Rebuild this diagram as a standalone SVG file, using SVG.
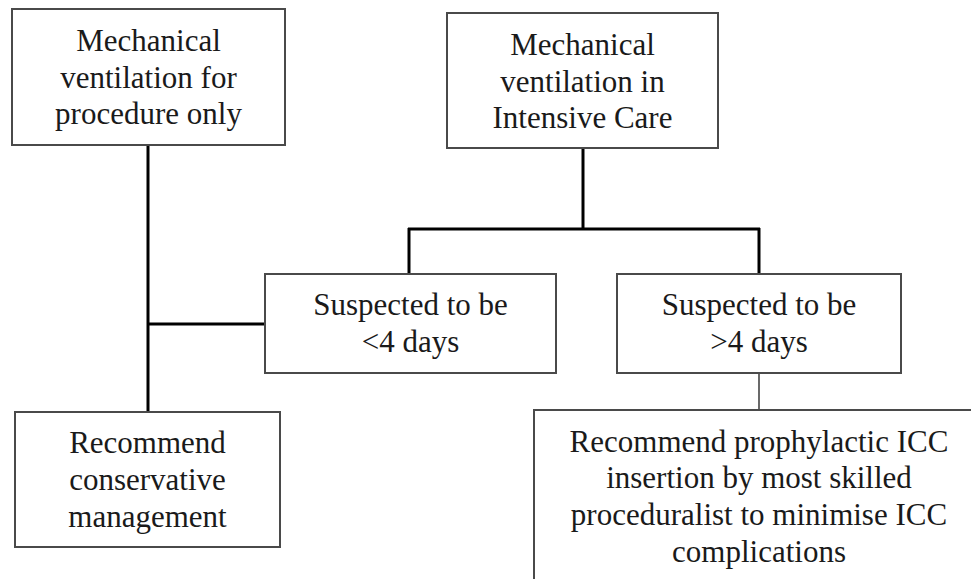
<svg xmlns="http://www.w3.org/2000/svg" width="971" height="579" viewBox="0 0 971 579">
<style>
.box{fill:#fff;stroke:#4a4a4a;stroke-width:2}
.t{font-family:"Liberation Serif","Times New Roman",serif;font-size:31px;fill:#1a1a1a;text-anchor:middle}
.c{stroke:#000;stroke-width:3;fill:none}
.thin{stroke:#444;stroke-width:1.6;fill:none}
</style>
<rect width="971" height="579" fill="#fff"/>
<g id="connectors">
<line class="c" x1="148" y1="145" x2="148" y2="412"/>
<line class="c" x1="148" y1="324" x2="265" y2="324"/>
<line class="c" x1="583" y1="148" x2="583" y2="229"/>
<line class="c" x1="408" y1="229" x2="760" y2="229"/>
<line class="c" x1="409" y1="228" x2="409" y2="274"/>
<line class="c" x1="759" y1="228" x2="759" y2="274"/>
<line class="thin" x1="759" y1="373" x2="759" y2="410"/>
</g>
<g id="node-procedure">
<rect class="box" x="12" y="9" width="273" height="136"/>
<text class="t" x="148.5" y="51">Mechanical</text>
<text class="t" x="148.5" y="88">ventilation for</text>
<text class="t" x="148.5" y="124">procedure only</text>
</g>
<g id="node-icu">
<rect class="box" x="447" y="13" width="271" height="135"/>
<text class="t" x="582.5" y="55">Mechanical</text>
<text class="t" x="582.5" y="92">ventilation in</text>
<text class="t" x="582.5" y="128">Intensive Care</text>
</g>
<g id="node-lt4">
<rect class="box" x="265" y="274" width="291" height="99"/>
<text class="t" x="410.5" y="315">Suspected to be</text>
<text class="t" x="410.5" y="352">&lt;4 days</text>
</g>
<g id="node-gt4">
<rect class="box" x="617" y="274" width="284" height="99"/>
<text class="t" x="759" y="315">Suspected to be</text>
<text class="t" x="759" y="352">&gt;4 days</text>
</g>
<g id="node-conservative">
<rect class="box" x="15" y="412" width="265" height="135"/>
<text class="t" x="147.5" y="453">Recommend</text>
<text class="t" x="147.5" y="490">conservative</text>
<text class="t" x="147.5" y="527">management</text>
</g>
<g id="node-prophylactic">
<rect class="box" x="534" y="410" width="450" height="190"/>
<text class="t" x="759" y="452">Recommend prophylactic ICC</text>
<text class="t" x="759" y="488">insertion by most skilled</text>
<text class="t" x="759" y="525">proceduralist to minimise ICC</text>
<text class="t" x="759" y="562">complications</text>
</g>
</svg>
